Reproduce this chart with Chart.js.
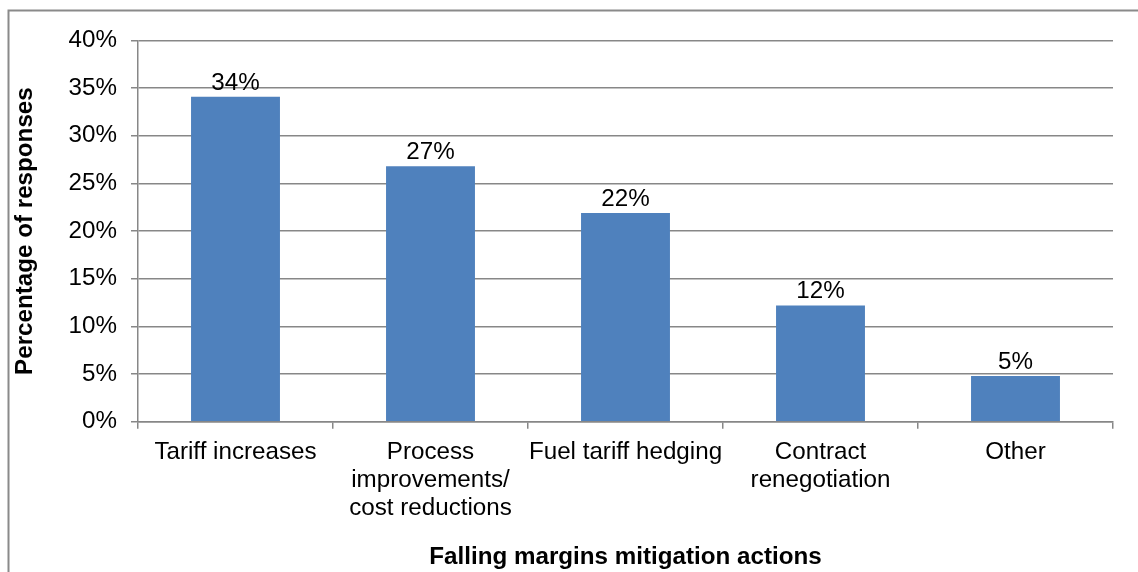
<!DOCTYPE html>
<html>
<head>
<meta charset="utf-8">
<title>Falling margins mitigation actions</title>
<script src="https://cdn.jsdelivr.net/npm/chart.js@4.4.1/dist/chart.umd.min.js"></script>
<style>
  html, body { margin: 0; padding: 0; background: #ffffff; }
  #wrap { position: relative; width: 1138px; height: 572px; }
  canvas { display: block; }
</style>
</head>
<body>
<div id="wrap"><canvas id="chart" width="1138" height="572"></canvas></div>
<script>
// Survey responses: actions taken against falling margins
const categories = [
  'Tariff increases',
  ['Process', 'improvements/', 'cost reductions'],
  'Fuel tariff hedging',
  ['Contract', 'renegotiation'],
  'Other'
];
const responseShare = [34.1, 26.8, 21.9, 12.2, 4.8];   // percent of responses
const yTicks = [0, 5, 10, 15, 20, 25, 30, 35, 40];
const yTitle = 'Percentage of responses';
const xTitle = 'Falling margins mitigation actions';

const FONT = '"Liberation Sans", Arial, sans-serif';
const FONT_SIZE = 24.2;
const GRID = '#878787';
const BAR = '#4F81BD';

// Outer frame of the chart object
const framePlugin = {
  id: 'frame',
  beforeDraw(chart) {
    const ctx = chart.ctx;
    ctx.save();
    ctx.fillStyle = '#ffffff';
    ctx.fillRect(0, 0, chart.width, chart.height);
    ctx.strokeStyle = '#8a8a8a';
    ctx.lineWidth = 2;
    ctx.strokeRect(8.5, 10.5, chart.width + 20, chart.height + 20);
    ctx.restore();
  }
};

// Percentage labels above each bar
const valueLabels = {
  id: 'valueLabels',
  afterDatasetsDraw(chart) {
    const ctx = chart.ctx;
    const meta = chart.getDatasetMeta(0);
    const values = chart.data.datasets[0].data;
    ctx.save();
    ctx.font = FONT_SIZE + 'px ' + FONT;
    ctx.fillStyle = '#000000';
    ctx.textAlign = 'center';
    ctx.textBaseline = 'alphabetic';
    meta.data.forEach((bar, i) => {
      ctx.fillText(Math.round(values[i]) + '%', bar.x, bar.y - 7);
    });
    ctx.restore();
  }
};

new Chart(document.getElementById('chart'), {
  type: 'bar',
  data: {
    labels: categories,
    datasets: [{
      data: responseShare,
      backgroundColor: BAR,
      borderWidth: 0,
      categoryPercentage: 1.0,
      barPercentage: 0.456
    }]
  },
  options: {
    responsive: false,
    animation: false,
    events: [],
    layout: { padding: { left: 0, right: 25, top: 40.5, bottom: 0 } },
    plugins: {
      legend: { display: false },
      tooltip: { enabled: false },
      title: { display: false }
    },
    scales: {
      x: {
        type: 'category',
        offset: true,
        grid: {
          offset: true,
          drawOnChartArea: false,
          drawTicks: true,
          tickLength: 7,
          color: GRID,
          lineWidth: 1.5
        },
        border: { display: true, color: GRID, width: 1.5 },
        ticks: {
          color: '#000000',
          font: { family: FONT, size: FONT_SIZE, lineHeight: 1.15 },
          padding: 10,
          maxRotation: 0,
          minRotation: 0,
          autoSkip: false
        },
        title: {
          display: true,
          text: xTitle,
          color: '#000000',
          font: { family: FONT, size: FONT_SIZE, weight: 'bold', lineHeight: 1.2 },
          padding: { top: 0, bottom: 0 }
        },
        afterFit(scale) { scale.height = 150.3; }
      },
      y: {
        min: 0,
        max: 40,
        afterBuildTicks(scale) {
          scale.ticks = yTicks.map(v => ({ value: v }));
        },
        grid: {
          color: GRID,
          lineWidth: 1.5,
          drawTicks: true,
          tickLength: 7
        },
        border: { display: true, color: GRID, width: 1.5 },
        ticks: {
          color: '#000000',
          font: { family: FONT, size: FONT_SIZE },
          padding: 14,
          callback: v => v + '%'
        },
        title: {
          display: true,
          text: yTitle,
          color: '#000000',
          font: { family: FONT, size: FONT_SIZE, weight: 'bold', lineHeight: 1.2 },
          padding: { top: 11, bottom: 0 }
        },
        afterFit(scale) { scale.width = 138; }
      }
    }
  },
  plugins: [framePlugin, valueLabels]
});
</script>
</body>
</html>
